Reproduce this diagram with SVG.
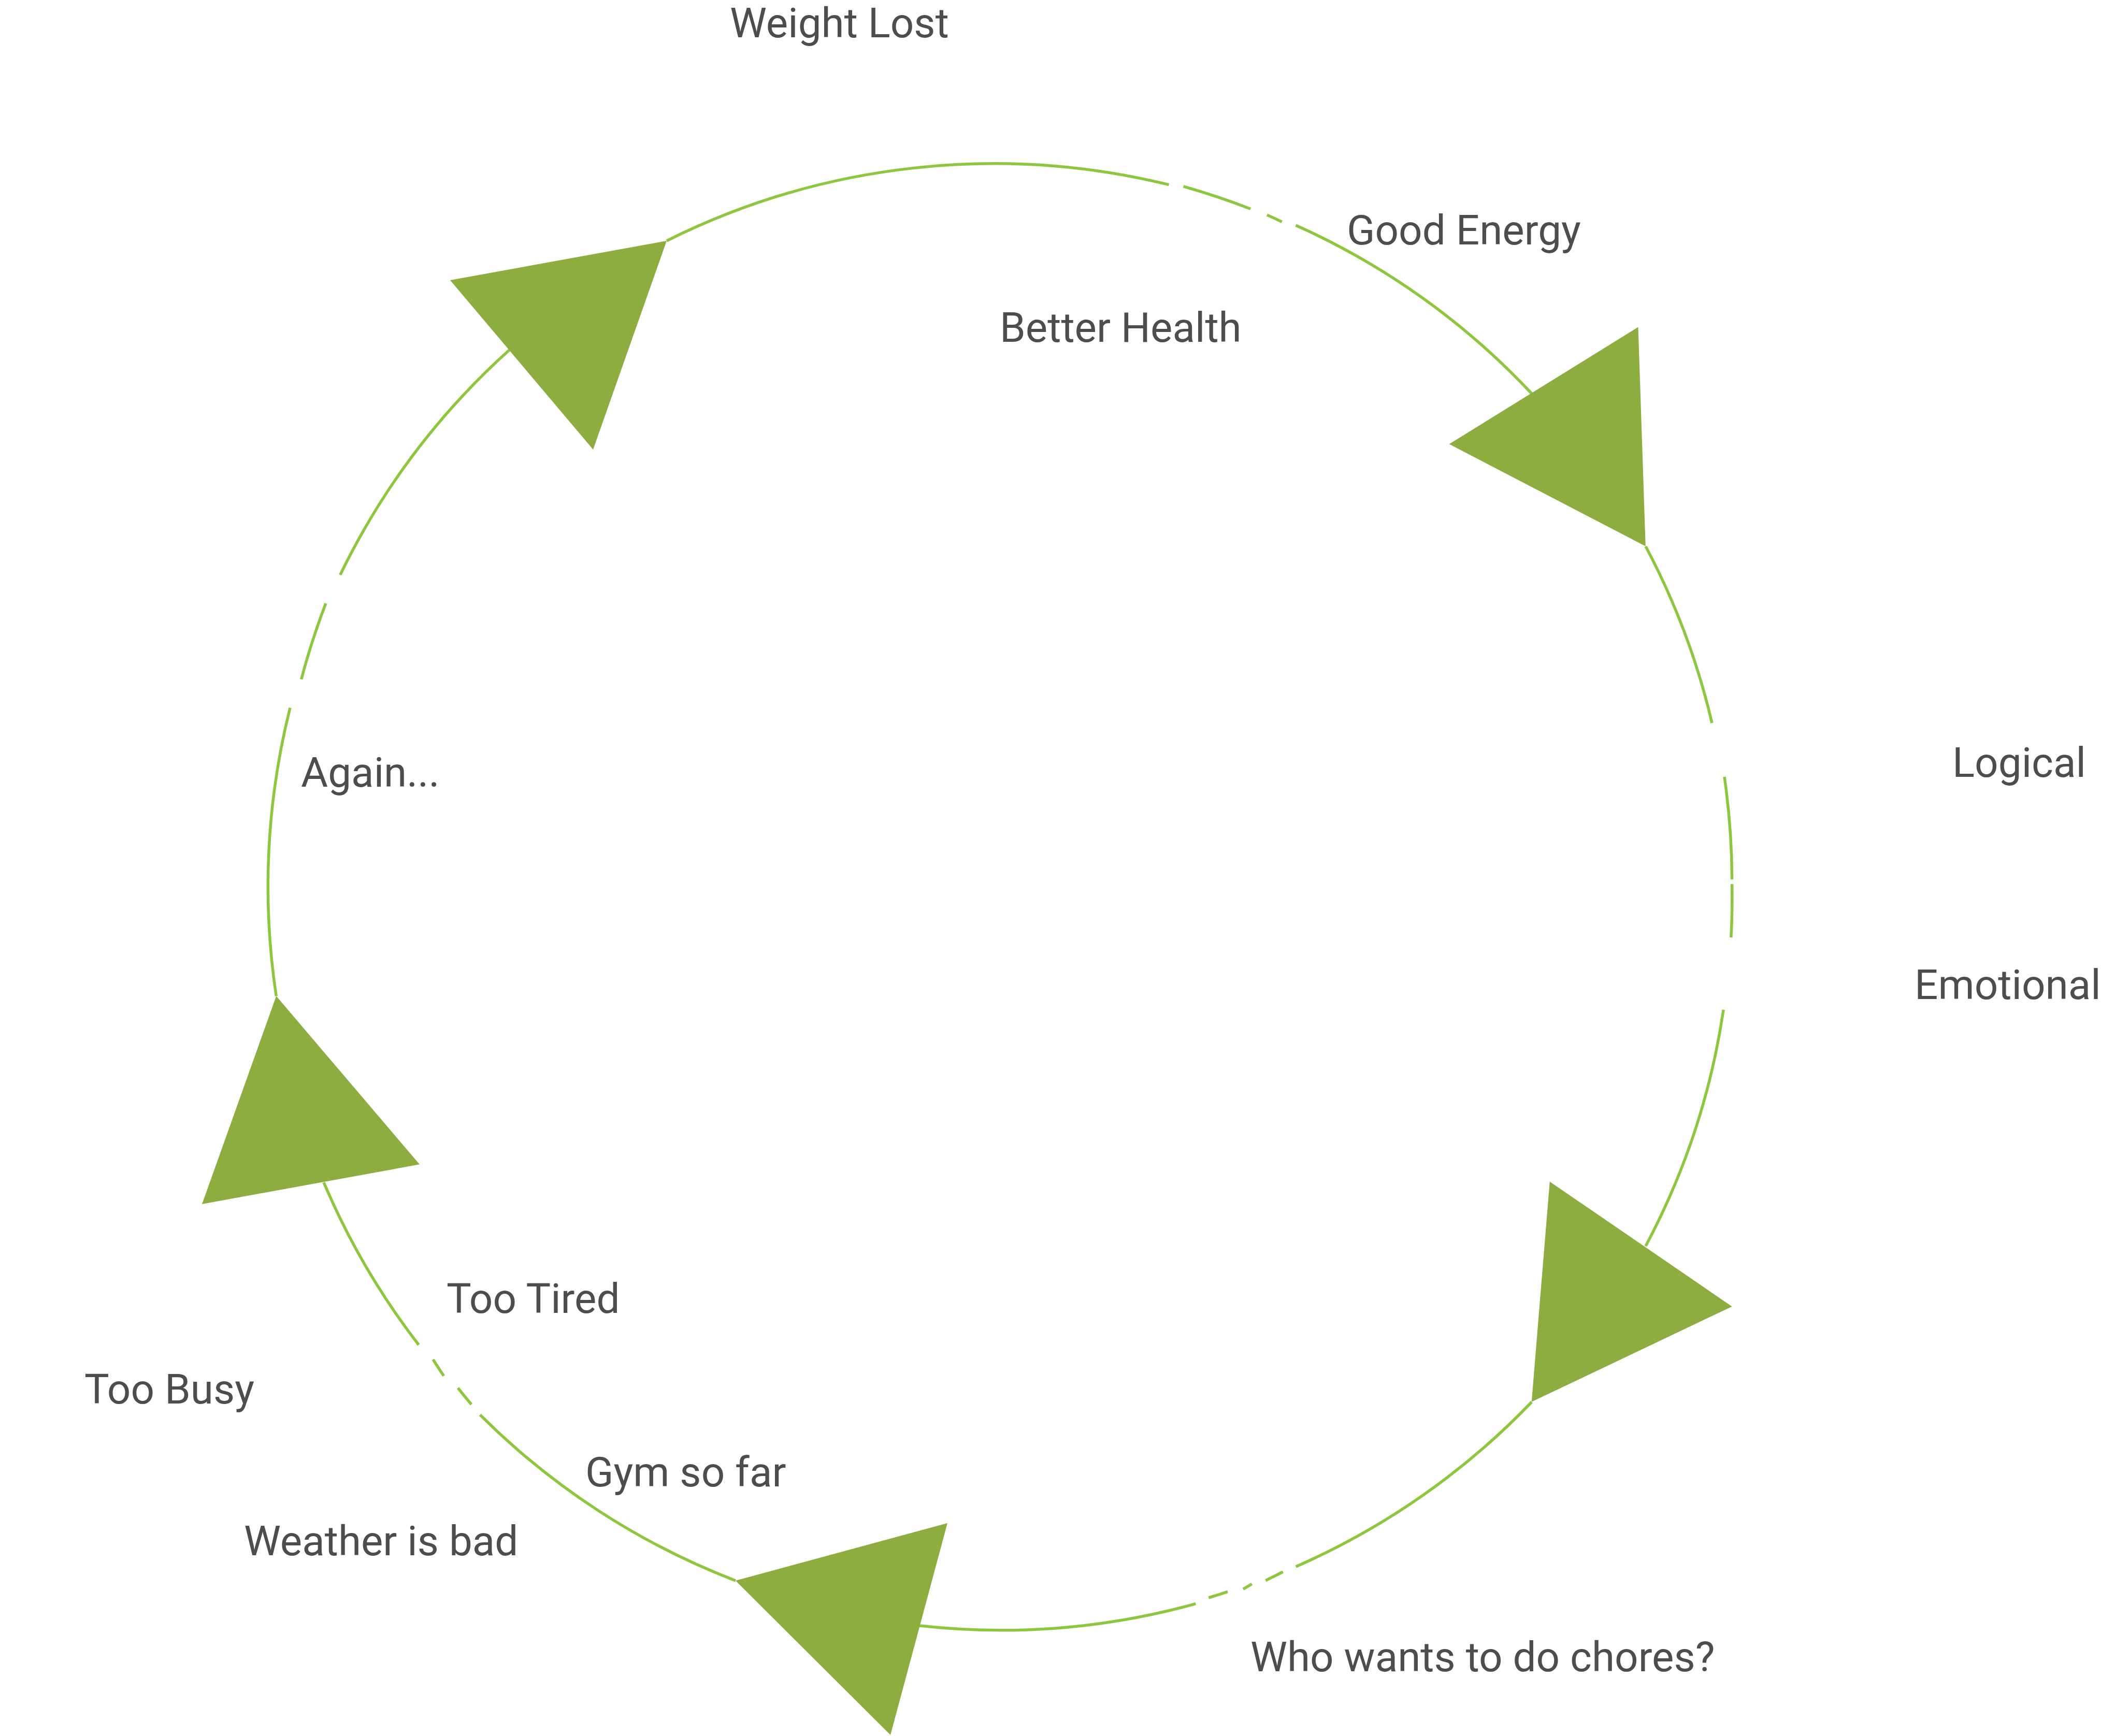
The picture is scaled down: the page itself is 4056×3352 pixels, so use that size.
<svg xmlns="http://www.w3.org/2000/svg" width="4056" height="3352" viewBox="0 0 4056 3352">
<style>
.arc{fill:none;stroke:#8DC63F;stroke-width:5.5;stroke-linecap:butt}
.head{fill:#8DAD40;stroke:none}
.lbl{font-family:Roboto,"Liberation Sans",sans-serif;font-size:80px;fill:#4D4D4D}
</style>
<rect width="4056" height="3352" fill="#FFFFFF"/>
<g id="connectors">
<path class="arc" d="M1287 465 A1415 1415 0 0 1 2256.6 356.7"/>
<path class="arc" d="M2284.7 360 A1415 1415 0 0 1 2414 403.3"/>
<path class="arc" d="M2446 415 A1415 1415 0 0 1 2474.7 428.3"/>
<path class="arc" d="M2501.5 435 A1415 1415 0 0 1 2957 760"/>
<path class="arc" d="M3177 1055 A1415 1415 0 0 1 3305 1396"/>
<path class="arc" d="M3329 1500 A1415 1415 0 0 1 3343.6 1698"/>
<path class="arc" d="M3343.6 1707 A1415 1415 0 0 1 3341.8 1810"/>
<path class="arc" d="M3327.2 1949.7 A1415 1415 0 0 1 3177 2406"/>
<path class="arc" d="M2957 2707 A1415 1415 0 0 1 2501.7 3025"/>
<path class="arc" d="M2476.7 3035 A1415 1415 0 0 1 2443.3 3051.7"/>
<path class="arc" d="M2416.7 3058.3 A1415 1415 0 0 1 2400 3068.3"/>
<path class="arc" d="M2370 3073.3 A1415 1415 0 0 1 2333.3 3085"/>
<path class="arc" d="M2308.3 3096.7 A1415 1415 0 0 1 1775 3139"/>
<path class="arc" d="M1420 3052 A1415 1415 0 0 1 926.7 2731.7"/>
<path class="arc" d="M910 2711.7 A1415 1415 0 0 1 884 2680"/>
<path class="arc" d="M856.7 2656.7 A1415 1415 0 0 1 836 2625"/>
<path class="arc" d="M808.3 2596.7 A1415 1415 0 0 1 625 2283"/>
<path class="arc" d="M533.3 1923.3 A1415 1415 0 0 1 560 1366.7"/>
<path class="arc" d="M581.7 1311.7 A1415 1415 0 0 1 629 1165"/>
<path class="arc" d="M656.7 1110 A1415 1415 0 0 1 983 676"/>
<polygon class="head" points="869,541 1287,465 1145,868"/>
<polygon class="head" points="3162.5,631.6 2797.7,857.5 3176.8,1054.7"/>
<polygon class="head" points="2991.8,2281.6 3343.7,2522.7 2956.8,2706.8"/>
<polygon class="head" points="1829,2941 1420,3052 1719,3350"/>
<polygon class="head" points="533.3,1923.3 390,2325 810,2248.3"/>
</g>
<g id="node-weight-lost"><text class="lbl" x="1409" y="72">Weight Lost</text></g>
<g id="node-good-energy"><text class="lbl" x="2600" y="472">Good Energy</text></g>
<g id="node-better-health"><text class="lbl" x="1930" y="660">Better Health</text></g>
<g id="node-logical"><text class="lbl" x="3769" y="1500">Logical</text></g>
<g id="node-emotional"><text class="lbl" x="3696" y="1929">Emotional</text></g>
<g id="node-again"><text class="lbl" x="581" y="1519">Again...</text></g>
<g id="node-too-tired"><text class="lbl" x="862" y="2535">Too Tired</text></g>
<g id="node-too-busy"><text class="lbl" x="163" y="2710">Too Busy</text></g>
<g id="node-gym"><text class="lbl" x="1130" y="2870">Gym so far</text></g>
<g id="node-weather"><text class="lbl" x="471" y="3003">Weather is bad</text></g>
<g id="node-chores"><text class="lbl" x="2414" y="3227">Who wants to do chores?</text></g>
</svg>
